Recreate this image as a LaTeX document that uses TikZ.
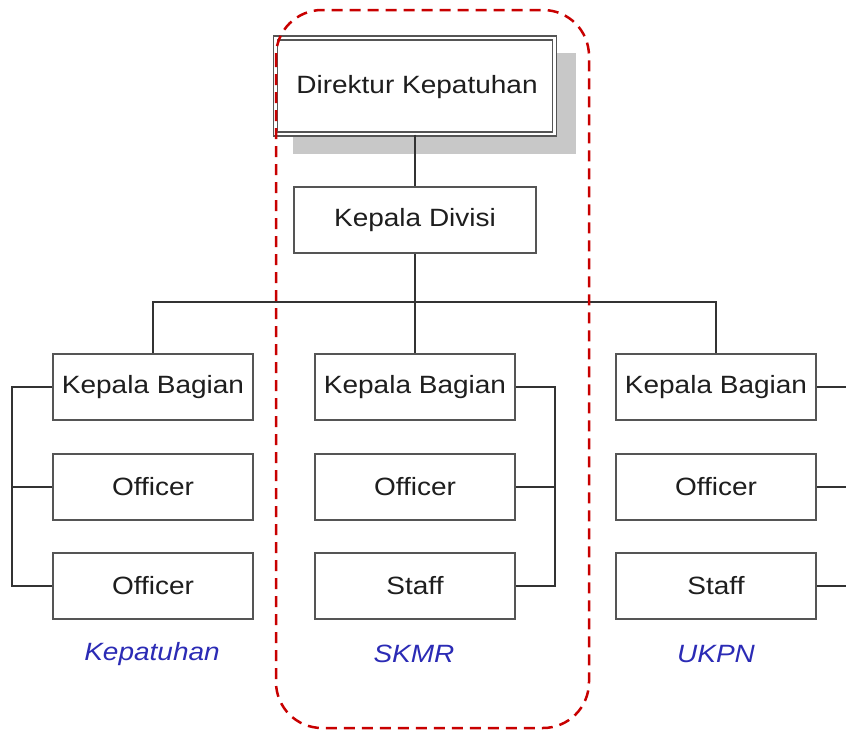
\documentclass[tikz,border=0pt]{standalone}
\usepackage{fontspec}
\setmainfont{Liberation Sans}
\usepackage{graphicx}
\definecolor{boxline}{HTML}{555555}
\definecolor{txt}{HTML}{1E1E1E}
\definecolor{lbl}{HTML}{2B2BB5}
\definecolor{dred}{HTML}{C80000}
\definecolor{shadowgray}{HTML}{C8C8C8}
\newcommand{\wtxt}[1]{\scalebox{1.12}[1]{#1}}
\begin{document}
\begin{tikzpicture}[x=1pt,y=-1pt,
  box/.style={draw=boxline, line width=1.6pt, fill=white, minimum width=200pt, minimum height=66pt, inner sep=0pt, text=txt, font=\fontsize{25}{30}\selectfont},
  conn/.style={draw=black!80, line width=1.4pt},
  grp/.style={text=lbl, font=\fontsize{25}{30}\selectfont\itshape}
]
\useasboundingbox (0,0) rectangle (846,731);
% director
\fill[shadowgray] (293,53) rectangle (576,154);
\node[draw=boxline, double=white, double distance=2.6pt, line width=1.3pt, fill=white, minimum width=279pt, minimum height=96pt, inner sep=0pt] (dir) at (415,86) {};
\node[text=txt, font=\fontsize{25}{30}\selectfont] (dirt) at (417,87) {\wtxt{Direktur Kepatuhan}};
\node[box, minimum width=242pt] (div) at (415,220) {\wtxt{Kepala Divisi}};
% columns
\node[box] (kb1) at (153,387) {\wtxt{Kepala Bagian}};
\node[box] (of1) at (153,487) {\wtxt{Officer}};
\node[box] (of2) at (153,586) {\wtxt{Officer}};
\node[box] (kb2) at (415,387) {\wtxt{Kepala Bagian}};
\node[box] (of3) at (415,487) {\wtxt{Officer}};
\node[box] (st2) at (415,586) {\wtxt{Staff}};
\node[box] (kb3) at (716,387) {\wtxt{Kepala Bagian}};
\node[box] (of4) at (716,487) {\wtxt{Officer}};
\node[box] (st3) at (716,586) {\wtxt{Staff}};
% labels
\node[grp] (g1) at (152,654) {\wtxt{Kepatuhan}};
\node[grp] (g2) at (414,654) {\wtxt{SKMR}};
\node[grp] (g3) at (716,654) {\wtxt{UKPN}};
% connectors
\coordinate (bus) at (415,302);
\coordinate (lbx) at (12,0);
\coordinate (rbx) at (555,0);
\coordinate (edge) at (846,0);
\draw[conn] (dir.south) -- (div.north);
\draw[conn] (div.south) -- (bus);
\draw[conn] (kb1.north) |- (bus) -| (kb3.north);
\draw[conn] (bus) -- (kb2.north);
\draw[conn] (kb1.west) -- (kb1.west -| lbx) |- (of2.west);
\draw[conn] (of1.west) -- (of1.west -| lbx);
\draw[conn] (kb2.east) -- (kb2.east -| rbx) |- (st2.east);
\draw[conn] (of3.east) -- (of3.east -| rbx);
\draw[conn] (kb3.east) -- (kb3.east -| edge);
\draw[conn] (of4.east) -- (of4.east -| edge);
\draw[conn] (st3.east) -- (st3.east -| edge);
% red dashed group (on top)
\draw[dred, line width=2.5pt, dash pattern=on 11pt off 7pt, rounded corners=46pt] (276,10) rectangle (589,728);
\end{tikzpicture}
\end{document}
